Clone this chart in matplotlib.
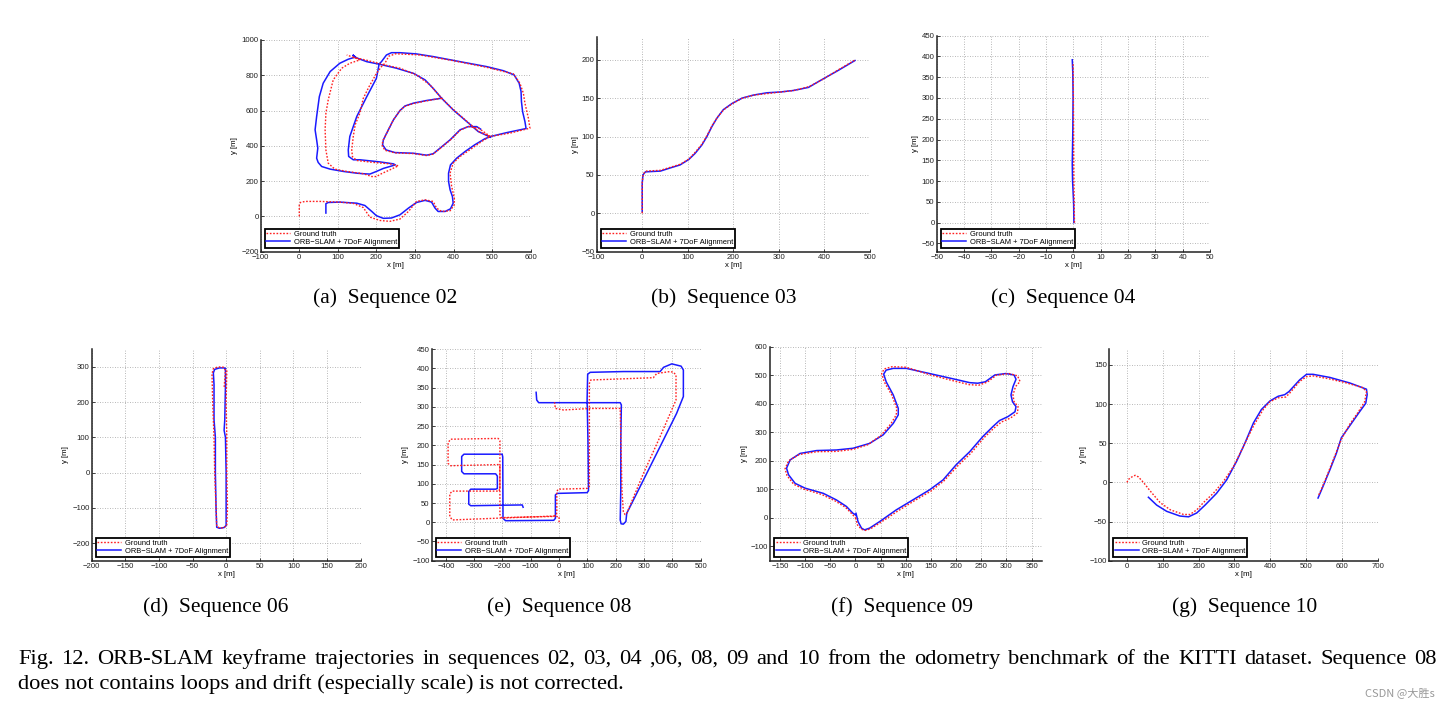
import numpy as np
import matplotlib
matplotlib.use("Agg")
import matplotlib.pyplot as plt

# --- trajectories (x [m], y [m]); None splits a line ---
gt02 = [(0, 0), (0, 66), (3, 79), (15, 85), (54, 85), (105, 81), (140, 74), (166, 50), (183, -4), (209, -23),
        (235, -28), (261, -15), (283, 28), (304, 85), (326, 94), (347, 85), (356, 47), (369, 28), (391, 32),
        (402, 66), (402, 104), (395, 170), (391, 245), (399, 302), (417, 340), (442, 377), (473, 425), (494, 453),
        (546, 472), (598, 500), (594, 557), (585, 642), (581, 698), (572, 755), (555, 808), (486, 845), (399, 883),
        (313, 915), (250, 922), (232, 908), (222, 868), (213, 849), (200, 810), (181, 736), (166, 670), (157, 585),
        (145, 520), (140, 453), (136, 377), (138, 338), (149, 317), (192, 306), (235, 298), (257, 287), (235, 264),
        (213, 242), (200, 226), (188, 226), (166, 242), (123, 255), (92, 268), (75, 302), (69, 377), (67, 491),
        (69, 585), (75, 660), (88, 774), (110, 840), (131, 868), (157, 887), (140, 902), (123, 915),
        None,
        (140, 902), (175, 885), (218, 860), (261, 840), (304, 802), (339, 745), (369, 670), (399, 606), (434, 540),
        (464, 483), (494, 453),
        None,
        (369, 670), (330, 655), (296, 640), (274, 624), (261, 600), (244, 547), (231, 491), (218, 434), (214, 406),
        (222, 375), (248, 360), (296, 356), (330, 345), (347, 353), (365, 385), (391, 432), (417, 488), (438, 510),
        (465, 500), (494, 455)]
orb02 = [(69, 19), (69, 72), (75, 79), (105, 81), (149, 75), (170, 62), (188, 28), (200, 4), (218, -11), (239, -9),
         (261, 9), (283, 47), (304, 79), (326, 91), (343, 81), (352, 47), (360, 28), (378, 28), (392, 43), (399, 75),
         (397, 113), (391, 151), (387, 198), (387, 245), (392, 292), (408, 330), (430, 368), (455, 406), (481, 440),
         (496, 453), (538, 475), (588, 498), (585, 538), (579, 594), (576, 651), (575, 708), (570, 755), (557, 802),
         (529, 826), (486, 849), (417, 877), (347, 906), (304, 921), (261, 928), (239, 928), (226, 915), (213, 877),
         (207, 864), (200, 783), (175, 679), (149, 566), (131, 453), (127, 377), (128, 340), (140, 321), (157, 321),
         (209, 309), (244, 298), (249, 292), (235, 283), (218, 272), (200, 255), (183, 240), (166, 242), (149, 245),
         (114, 255), (80, 268), (58, 283), (49, 306), (45, 330), (48, 387), (45, 434), (41, 491), (45, 566), (52, 679),
         (62, 755), (80, 821), (105, 868), (127, 891), (144, 902), (140, 913),
         None,
         (140, 913), (149, 898), (175, 877), (209, 862), (252, 840), (296, 811), (326, 774), (347, 726), (369, 670),
         (399, 604), (434, 538), (464, 481), (496, 449),
         None,
         (369, 670), (330, 657), (296, 642), (274, 626), (261, 600), (244, 547), (231, 491), (218, 434), (216, 406),
         (225, 377), (248, 362), (296, 358), (330, 347), (347, 355), (365, 387), (391, 434), (417, 491), (438, 509),
         (460, 509), (470, 495)]

gt03 = [(0, 0), (0, 40), (2, 51), (8, 55), (40, 56), (62, 60), (84, 64), (103, 71), (117, 80), (131, 90), (143, 102),
        (153, 114), (165, 125), (179, 135), (198, 143), (220, 150), (245, 154), (275, 156), (304, 158), (333, 160),
        (366, 165), (392, 173), (428, 186), (468, 200)]
orb03 = [(0, 2), (0, 39), (1.5, 50), (7, 54), (40, 55), (61, 59), (83, 63), (102, 70), (116, 78), (131, 89),
         (142, 100), (153, 113), (164, 124), (178, 135), (197, 143), (219, 150), (244, 154), (274, 157), (303, 158),
         (332, 160), (365, 164), (391, 173), (427, 185), (467, 199)]

gt04 = [(0.4, 0), (0.2, 100), (0.1, 200), (0, 300), (-0.1, 385)]
orb04 = [(0.2, 0), (0.1, 46), (-0.3, 102), (-0.4, 142), (-0.2, 223), (-0.1, 303), (-0.2, 360), (-0.4, 392)]

gt06 = [(1, 290), (0, 200), (1, 100), (1, 0), (2, -100), (1, -150), (-4, -157), (-10, -157), (-14, -152),
        (-15, -100), (-17, 0), (-18, 100), (-20, 200), (-21, 280), (-19, 295), (-12, 300), (-4, 299), (-1, 290),
        (-3, 240)]
orb06 = [(-1, 295), (-1, 250), (-2, 150), (-3, 120), (-1, 100), (0, 0), (0, -100), (0, -150), (-3, -156),
         (-10, -158), (-14, -155), (-15, -100), (-16, 0), (-16, 100), (-18, 150), (-18, 250), (-19, 283),
         (-17, 293), (-10, 297), (-3, 297), (-1, 295)]

gt08 = [(0, 0), (0, 14), (-20, 16), (-200, 11), (-377, 6), (-386, 15), (-386, 74), (-377, 81), (-212, 81),
        (-209, 90), (-209, 145), (-214, 150), (-383, 147), (-392, 153), (-392, 207), (-383, 216), (-215, 218),
        (-209, 212), (-209, 20), (-203, 12), (-25, 15), (-10, 18), (-8, 25), (-8, 80), (-3, 86), (99, 88),
        (107, 93), (107, 361), (112, 370), (333, 376), (345, 387), (392, 392), (404, 390), (413, 383), (413, 318),
        (357, 223), (298, 127), (239, 23), (233, 20), (227, 28), (222, 84), (216, 296), (110, 296), (16, 292),
        (-13, 296), (-16, 312)]
orb08 = [(-81, 338), (-79, 318), (-72, 311), (216, 311), (220, 305), (218, 214), (218, 84), (216, 6), (219, -4),
         (227, -5), (236, 2), (239, 23), (298, 110), (357, 197), (415, 283), (439, 327), (439, 396), (431, 406),
         (398, 412), (369, 403), (357, 392), (228, 392), (110, 390), (101, 385), (99, 318), (102, 214), (104, 82),
         (99, 77), (-7, 75), (-13, 71), (-13, 10), (-19, 5), (-189, 4), (-198, 10), (-199, 170), (-201, 177),
         (-336, 177), (-344, 171), (-344, 132), (-336, 126), (-224, 126), (-218, 120), (-218, 88), (-224, 86),
         (-312, 86), (-319, 80), (-319, 47), (-312, 43), (-130, 45), (-127, 39)]

gt09 = [(0, 0), (4, -25), (12, -40), (20, -44), (30, -38), (50, -16), (84, 24), (117, 60), (150, 94), (176, 130),
        (203, 182), (230, 228), (256, 282), (276, 316), (290, 336), (308, 350), (322, 368), (323, 390), (315, 408),
        (313, 431), (318, 460), (327, 478), (322, 498), (305, 506), (280, 500), (262, 476), (245, 465), (226, 467),
        (200, 478), (147, 502), (101, 528), (73, 530), (57, 522), (52, 506), (57, 477), (72, 431), (82, 384),
        (81, 361), (70, 329), (50, 288), (24, 256), (-5, 240), (-38, 233), (-77, 232), (-112, 222), (-133, 200),
        (-140, 172), (-136, 148), (-123, 118), (-103, 101), (-67, 82), (-40, 59), (-20, 37), (-6, 12), (0, 0)]
orb09 = [(1, 16), (5, -13), (12, -36), (18, -42), (28, -36), (48, -13), (81, 28), (114, 63), (147, 98), (174, 133),
         (200, 186), (227, 232), (253, 285), (273, 320), (286, 341), (303, 355), (317, 372), (319, 390), (312, 407),
         (309, 431), (313, 460), (319, 486), (315, 501), (299, 506), (277, 501), (258, 477), (243, 472), (227, 474),
         (200, 485), (147, 506), (101, 524), (75, 524), (61, 518), (56, 504), (61, 477), (75, 431), (85, 384),
         (85, 361), (75, 331), (55, 291), (28, 261), (-5, 244), (-38, 238), (-77, 236), (-110, 226), (-130, 203),
         (-137, 174), (-133, 151), (-120, 121), (-100, 104), (-64, 86), (-38, 63), (-18, 40), (-5, 16), (1, 10)]

gt10 = [(0, 0), (5, 4), (14, 7), (23, 9), (32, 7), (46, 0), (65, -11), (93, -26), (121, -35), (158, -41), (176, -41),
        (195, -35), (213, -26), (241, -14), (269, 1), (297, 20), (325, 46), (353, 72), (380, 93), (399, 103),
        (422, 108), (443, 109), (454, 114), (482, 129), (501, 135), (519, 136), (566, 132), (612, 127), (658, 121),
        (668, 116), (663, 103), (644, 89), (621, 74), (598, 55), (579, 33), (561, 12), (542, -9), (533, -18)]
orb10 = [(60, -19), (83, -29), (111, -37), (148, -43), (172, -44), (195, -39), (218, -29), (250, -14), (278, 3),
         (306, 27), (329, 50), (353, 76), (375, 93), (399, 104), (422, 110), (440, 112), (452, 116), (482, 131),
         (501, 138), (519, 138), (566, 134), (621, 127), (668, 119), (670, 112), (666, 101), (647, 89), (621, 72),
         (598, 57), (584, 37), (566, 16), (547, -5), (533, -20)]

captions = ["(a)  Sequence 02", "(b)  Sequence 03", "(c)  Sequence 04",
            "(d)  Sequence 06", "(e)  Sequence 08", "(f)  Sequence 09", "(g)  Sequence 10"]
legend_labels = ["Ground truth", "ORB\u2212SLAM + 7DoF Alignment"]
fig_caption = ["Fig. 12.  ORB-SLAM keyframe trajectories in sequences 02, 03, 04 ,06, 08, 09 and 10 from the "
               "odometry benchmark of the KITTI dataset. Sequence 08",
               "does not contains loops and drift (especially scale) is not corrected."]


def xy(pts):
    a = np.array([(np.nan, np.nan) if p is None else p for p in pts], dtype=float)
    return a[:, 0], a[:, 1]


plt.rcParams['font.family'] = ['Liberation Sans', 'DejaVu Sans']
fig = plt.figure(figsize=(14.5, 7.09), dpi=100)

panels = [
    (gt02, orb02, [0.1798, 0.645, 0.1862, 0.2986], (-100, 600), (-200, 1000), np.arange(-100, 601, 100), np.arange(-200, 1001, 200)),
    (gt03, orb03, [0.4115, 0.645, 0.1885, 0.3032], (-100, 500), (-50, 230), np.arange(-100, 501, 100), np.arange(-50, 201, 50)),
    (gt04, orb04, [0.6460, 0.645, 0.1885, 0.3047], (-50, 50), (-70, 450), np.arange(-50, 51, 10), np.arange(-50, 451, 50)),
    (gt06, orb06, [0.0632, 0.2092, 0.1855, 0.2982], (-200, 200), (-250, 350), np.arange(-200, 201, 50), np.arange(-200, 301, 100)),
    (gt08, orb08, [0.2977, 0.2092, 0.1855, 0.2982], (-450, 500), (-100, 450), np.arange(-400, 501, 100), np.arange(-100, 451, 50)),
    (gt09, orb09, [0.5310, 0.2092, 0.1874, 0.3018], (-170, 370), (-150, 600), np.arange(-150, 351, 50), np.arange(-100, 601, 100)),
    (gt10, orb10, [0.7648, 0.2092, 0.1855, 0.2982], (-50, 700), (-100, 170), np.arange(0, 701, 100), np.arange(-100, 151, 50)),
]

for gt, orb, rect, xl, yl, xt, yt in panels:
    ax = fig.add_axes(rect)
    bx, by = xy(orb)
    rx, ry = xy(gt)
    l_orb, = ax.plot(bx, by, color='#1a1aff', lw=1.1, zorder=2)
    l_gt, = ax.plot(rx, ry, color='#ff2020', lw=1.0, linestyle=(0, (1.2, 1.2)), zorder=3)
    ax.set_xlim(*xl)
    ax.set_ylim(*yl)
    ax.set_xticks(xt)
    ax.set_yticks(yt)
    ax.grid(True, linestyle=(0, (1, 2)), color='#a0a0a0', lw=0.6)
    ax.set_axisbelow(True)
    for s in ['top', 'right']:
        ax.spines[s].set_visible(False)
    for s in ['left', 'bottom']:
        ax.spines[s].set_linewidth(1.1)
        ax.spines[s].set_color('#222222')
    ax.tick_params(direction='in', length=2, width=0.6, labelsize=5.6, pad=1.5, colors='#222222')
    ax.set_xlabel('x [m]', fontsize=5.6, labelpad=1)
    ax.set_ylabel('y [m]', fontsize=5.6, labelpad=2)
    leg = ax.legend([l_gt, l_orb], legend_labels, loc='lower left', fontsize=5.4, frameon=True,
                    fancybox=False, edgecolor='black', framealpha=1, borderaxespad=0.55,
                    handlelength=3.2, handletextpad=0.5, labelspacing=0.12, borderpad=0.22)
    leg.get_frame().set_linewidth(1.3)

# --- sub-captions ---
cap_pos = [(385, 298), (724, 298), (1063, 298), (216, 607), (559, 607), (902, 607), (1245, 607)]
for (px, py), txt in zip(cap_pos, captions):
    fig.text(px / 1450, 1 - py / 709, txt, ha='center', va='center', fontsize=15.5, family='Liberation Serif')

# --- figure caption, first line justified ---
fig.canvas.draw()
r = fig.canvas.get_renderer()
words = fig_caption[0].split()
base1 = 1 - 664 / 709
ts = [fig.text(0, base1, w, va='baseline', fontsize=16.2, family='Liberation Serif') for w in words]
ws = [t.get_window_extent(r).width for t in ts]
gap = (1437 - 18 - sum(ws)) / (len(words) - 1)
x = 18
for i, (t, w) in enumerate(zip(ts, ws)):
    t.set_x(x / 1450)
    x += w + gap
fig.text(18 / 1450, 1 - 689 / 709, fig_caption[1], va='baseline', fontsize=16.2, family='Liberation Serif')

fig.text(1435 / 1450, 1 - 693 / 709, 'CSDN @大胜s', ha='right', va='center', fontsize=8, color='#999999',
         family=['Noto Sans CJK SC', 'DejaVu Sans'])

fig.savefig('out.png', dpi=100)
